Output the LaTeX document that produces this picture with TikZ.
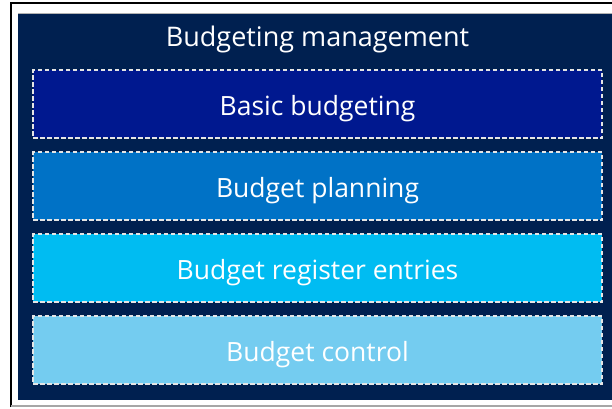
\documentclass[tikz,border=0pt]{standalone}
\usepackage{fontspec}
\setmainfont{Open Sans}
\usetikzlibrary{positioning}
\definecolor{navybg}{HTML}{002050}
\definecolor{basicblue}{HTML}{00188F}
\definecolor{planblue}{HTML}{0072C6}
\definecolor{registerblue}{HTML}{00BCF2}
\definecolor{controlblue}{HTML}{74CCF0}
\begin{document}
\begin{tikzpicture}[x=1pt,y=-1pt,
  layerbox/.style={draw=white!80!gray, dash pattern=on 4.5pt off 2.5pt, line width=1.2pt,
    minimum width=569pt, minimum height=68pt, text=white,
    text height=22pt, text depth=0pt,
    font=\fontsize{26.5}{30}\selectfont}]
\useasboundingbox (0,0) rectangle (612,408);
\draw[line width=2pt] (11,407) -- (11,3) -- (613,3);
\draw[gray!70, line width=1.5pt] (11,406) -- (613,406);
\fill[navybg] (18,13) rectangle (612,400);
\draw[gray!60, line width=0.6pt] (18,13) -- (612,13);

\node[text=white, font=\fontsize{27}{30}\selectfont] (title) at (317.5,39) {Budgeting management};
\node[layerbox, fill=basicblue] (basic) at (317.5,104) {Basic budgeting};
\node[layerbox, fill=planblue] (plan) at (317.5,186) {Budget planning};
\node[layerbox, fill=registerblue] (register) at (317.5,268) {Budget register entries};
\node[layerbox, fill=controlblue] (control) at (317.5,350) {Budget control};
\end{tikzpicture}
\end{document}
